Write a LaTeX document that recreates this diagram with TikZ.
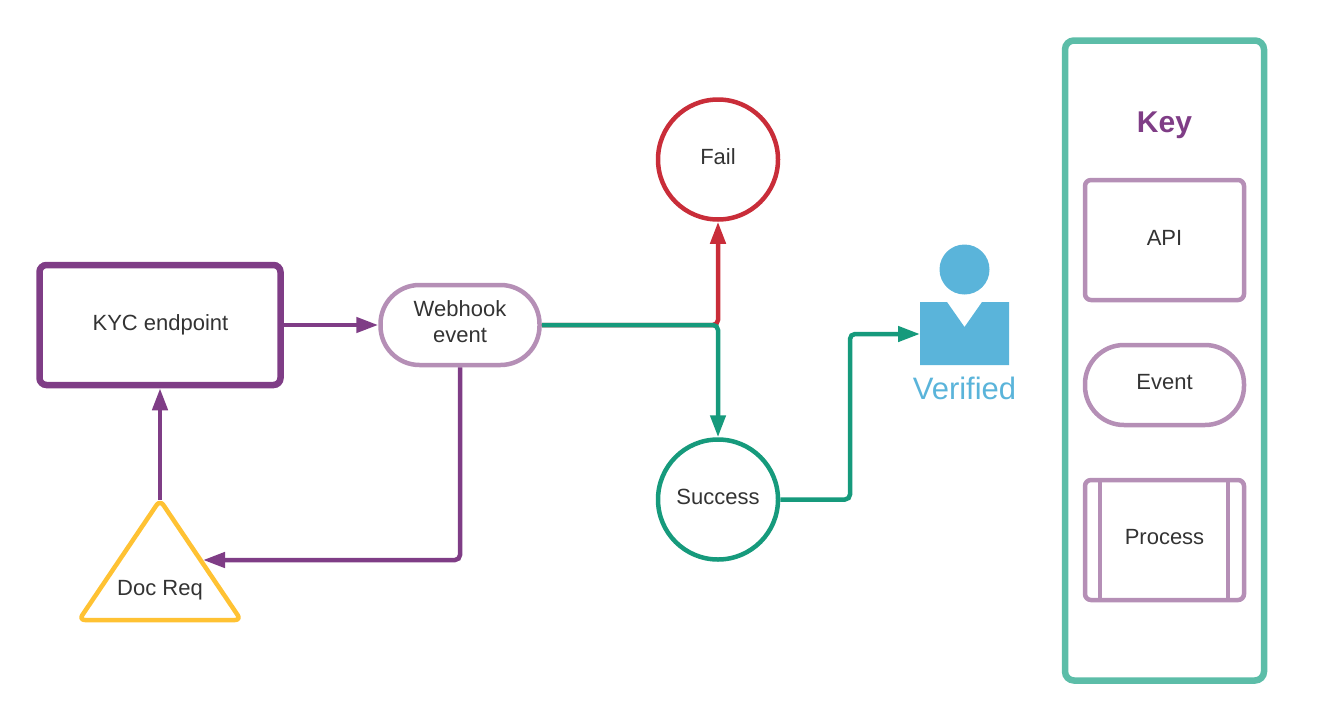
\documentclass[tikz,border=0pt]{standalone}
\usepackage{fontspec}
\setmainfont{Liberation Sans}
\usetikzlibrary{arrows.meta}
\definecolor{cpurple}{HTML}{7F3D86}
\definecolor{clight}{HTML}{B58FB6}
\definecolor{cgreen}{HTML}{169A7C}
\definecolor{cred}{HTML}{C92D39}
\definecolor{cyellow}{HTML}{FFC233}
\definecolor{cteal}{HTML}{5CBDA8}
\definecolor{cblue}{HTML}{5AB4DA}
\definecolor{ctext}{HTML}{333333}
\tikzset{
  x=1pt,y=-1pt,
  every node/.style={font=\fontsize{22}{26}\selectfont,text=ctext,align=center,inner sep=0pt},
  boxa/.style={draw=clight,line width=4.5pt,rounded corners=6pt,minimum width=159pt,minimum height=120pt},
  pillb/.style={draw=clight,line width=4.5pt,rounded corners=39pt,minimum width=159pt,minimum height=80pt},
  circ/.style={circle,line width=4.5pt,minimum size=120pt},
  conn/.style={line width=4.5pt,rounded corners=5pt,-{Triangle[length=22pt,width=15pt]}},
}
\begin{document}
\begin{tikzpicture}
\useasboundingbox (0,0) rectangle (1327,720);
% key
\node[draw=cteal,line width=6.5pt,rounded corners=9pt,minimum width=199pt,minimum height=640pt] (keybox) at (1164.5,360.5) {};
\node[font=\fontsize{30}{36}\selectfont\bfseries,text=cpurple] (keytitle) at (1164.5,125) {Key};
\node[boxa] (api) at (1164.5,240) {};
\node (apilabel) at (1164.5,238) {API};
\node[pillb] (event) at (1164.5,385) {};
\node (eventlabel) at (1164.5,382) {Event};
\node[boxa] (process) at (1164.5,540) {};
\coordinate (pl1) at (1100,480); \coordinate (pl2) at (1100,600);
\coordinate (pr1) at (1228,480); \coordinate (pr2) at (1228,600);
\draw[clight,line width=4.5pt] (pl1) -- (pl2);
\draw[clight,line width=4.5pt] (pr1) -- (pr2);
\node (processlabel) at (1164.5,537) {Process};
% main nodes
\node[draw=cpurple,line width=6.5pt,rounded corners=7pt,minimum width=241pt,minimum height=120pt] (kyc) at (160,325) {};
\node (kyclabel) at (160.5,325) {KYC endpoint};
\node[pillb] (web) at (460,325) {};
\node (weblabel) at (460,322) {Webhook\\event};
\node[circ,draw=cred] (fail) at (718,159.5) {};
\node (faillabel) at (718,157) {Fail};
\node[circ,draw=cgreen] (success) at (718,499.5) {};
\node (successlabel) at (718,497) {Success};
% triangle
\coordinate (triA) at (160,500);
\coordinate (triL) at (79,620);
\coordinate (triB) at (241,620);
\coordinate (triR) at (203,560);
\draw[cyellow,line width=4.5pt,rounded corners=6pt,line join=round] (triA) -- (triB) -- (triL) -- cycle;
\node (doclabel) at (160,590) {Doc Req};
% person
\fill[cblue] (964.5,269.5) circle (25);
\fill[cblue] (920,302) -- (947,302) -- (964.5,327) -- (982,302) -- (1009,302) -- (1009,365) -- (920,365) -- cycle;
\coordinate (personin) at (920,334);
\coordinate (bend) at (850,400);
\node[font=\fontsize{31}{36}\selectfont,text=cblue] (verified) at (964.5,388) {Verified};
% connectors
\draw[conn,cpurple] (kyc.east) -- (web.west);
\draw[conn,cpurple] (web.south) |- (triR);
\draw[conn,cpurple] (triA) -- (kyc.south);
\draw[conn,cred] (web.east) -| (fail.south);
\draw[conn,cgreen] (web.east) -| (success.north);
\draw[conn,cgreen] (success.east) -| (bend) |- (personin);
\end{tikzpicture}
\end{document}
